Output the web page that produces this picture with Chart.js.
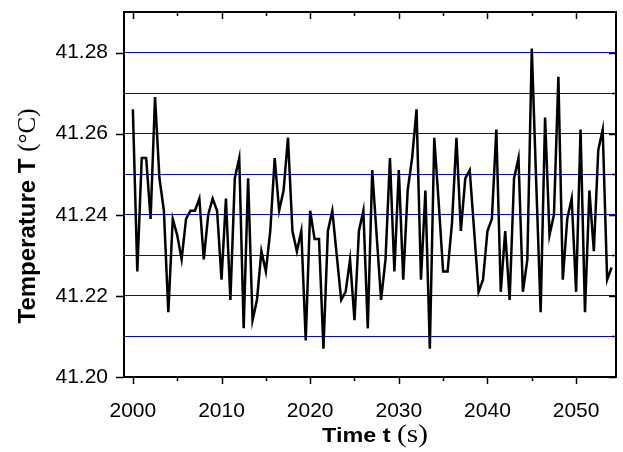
<!DOCTYPE html>
<html>
<head>
<meta charset="utf-8">
<script src="https://cdn.jsdelivr.net/npm/chart.js@4.4.0/dist/chart.umd.min.js"></script>
<style>
  html, body { margin: 0; padding: 0; background: #fff; }
</style>
</head>
<body>
<canvas id="chartTemp" width="623" height="452"></canvas>
<script>
// time stamps (s), one reading every half second
const times = [
  2000, 2000.5, 2001, 2001.5, 2002, 2002.5, 2003, 2003.5, 2004, 2004.5,
  2005, 2005.5, 2006, 2006.5, 2007, 2007.5, 2008, 2008.5, 2009, 2009.5,
  2010, 2010.5, 2011, 2011.5, 2012, 2012.5, 2013, 2013.5, 2014, 2014.5,
  2015, 2015.5, 2016, 2016.5, 2017, 2017.5, 2018, 2018.5, 2019, 2019.5,
  2020, 2020.5, 2021, 2021.5, 2022, 2022.5, 2023, 2023.5, 2024, 2024.5,
  2025, 2025.5, 2026, 2026.5, 2027, 2027.5, 2028, 2028.5, 2029, 2029.5,
  2030, 2030.5, 2031, 2031.5, 2032, 2032.5, 2033, 2033.5, 2034, 2034.5,
  2035, 2035.5, 2036, 2036.5, 2037, 2037.5, 2038, 2038.5, 2039, 2039.5,
  2040, 2040.5, 2041, 2041.5, 2042, 2042.5, 2043, 2043.5, 2044, 2044.5,
  2045, 2045.5, 2046, 2046.5, 2047, 2047.5, 2048, 2048.5, 2049, 2049.5,
  2050, 2050.5, 2051, 2051.5, 2052, 2052.5, 2053, 2053.5, 2054
];

// temperature readings (°C)
const temps = [
  41.266, 41.226, 41.254, 41.254, 41.239, 41.269, 41.249, 41.241, 41.216, 41.239,
  41.235, 41.229, 41.239, 41.241, 41.241, 41.244, 41.229, 41.240, 41.244, 41.241,
  41.224, 41.244, 41.219, 41.249, 41.254, 41.212, 41.249, 41.214, 41.219, 41.231,
  41.226, 41.236, 41.254, 41.241, 41.246, 41.259, 41.236, 41.231, 41.236, 41.209,
  41.241, 41.234, 41.234, 41.207, 41.236, 41.241, 41.230, 41.219, 41.221, 41.229,
  41.214, 41.236, 41.241, 41.212, 41.251, 41.235, 41.219, 41.229, 41.254, 41.226,
  41.251, 41.224, 41.246, 41.254, 41.266, 41.224, 41.246, 41.207, 41.259, 41.243,
  41.226, 41.226, 41.238, 41.259, 41.236, 41.249, 41.251, 41.236, 41.221, 41.224,
  41.236, 41.239, 41.261, 41.221, 41.236, 41.219, 41.249, 41.254, 41.221, 41.229,
  41.281, 41.248, 41.216, 41.264, 41.235, 41.240, 41.274, 41.224, 41.239, 41.244,
  41.221, 41.261, 41.216, 41.246, 41.231, 41.256, 41.261, 41.224, 41.227
];

const xTickValues = [2000, 2010, 2020, 2030, 2040, 2050];
const xMinorValues = [2005, 2015, 2025, 2035, 2045];
const yTickValues = [41.20, 41.22, 41.24, 41.26, 41.28];
const yMinorValues = [41.21, 41.23, 41.25, 41.27];

function isMajorY(v) {
  return yTickValues.some(t => Math.abs(t - v) < 1e-6);
}

// writes a sans part and a serif part side by side, centred on 0
function drawMixedTitle(ctx, sansText, serifText, sansFont, serifFont) {
  ctx.font = sansFont;
  const w1 = ctx.measureText(sansText).width;
  ctx.font = serifFont;
  const w2 = ctx.measureText(serifText).width;
  const sx = -(w1 + w2) / 2;
  ctx.font = sansFont;
  ctx.fillText(sansText, sx, 0);
  ctx.font = serifFont;
  ctx.fillText(serifText, sx + w1, 0);
}

// frame, tick marks and the mixed-font axis titles
const frameAndTitles = {
  id: 'frameAndTitles',
  afterDraw(chart) {
    const { ctx, chartArea: a, scales: { x, y } } = chart;
    ctx.save();
    ctx.strokeStyle = '#000';
    ctx.lineWidth = 2;
    ctx.strokeRect(a.left, a.top, a.right - a.left, a.bottom - a.top);

    ctx.lineWidth = 1.5;
    ctx.beginPath();
    xTickValues.concat(xMinorValues).forEach(v => {
      const px = Math.round(x.getPixelForValue(v)) + 0.5;
      const len = xTickValues.includes(v) ? 7 : 4;
      ctx.moveTo(px, a.bottom); ctx.lineTo(px, a.bottom + len);
      ctx.moveTo(px, a.top); ctx.lineTo(px, a.top + len);
    });
    yTickValues.concat(yMinorValues).forEach(v => {
      const py = Math.round(y.getPixelForValue(v)) + 0.5;
      const major = isMajorY(v);
      if (major) { ctx.moveTo(a.left - 8, py); ctx.lineTo(a.left, py); }
      ctx.moveTo(a.right, py); ctx.lineTo(a.right - (major ? 7 : 4), py);
    });
    ctx.stroke();

    ctx.fillStyle = '#000';
    ctx.textBaseline = 'alphabetic';
    ctx.textAlign = 'left';

    // x title: "Time t (s)"
    ctx.save();
    ctx.translate(375, 442);
    ctx.scale(1.17, 1);
    drawMixedTitle(ctx, 'Time t ', '(s)',
      'bold 20px "Liberation Sans", Arial, sans-serif',
      '25px "Liberation Serif", "Times New Roman", serif');
    ctx.restore();

    // y title: "Temperature T (°C)"
    ctx.save();
    ctx.translate(35, 216);
    ctx.rotate(-Math.PI / 2);
    drawMixedTitle(ctx, 'Temperature T ', '(\u00B0C)',
      'bold 24px "Liberation Sans", Arial, sans-serif',
      '25px "Liberation Serif", "Times New Roman", serif');
    ctx.restore();
    ctx.restore();
  }
};

new Chart(document.getElementById('chartTemp').getContext('2d'), {
  type: 'line',
  data: {
    datasets: [{
      data: times.map((t, i) => ({ x: t, y: temps[i] })),
      borderColor: '#000',
      borderWidth: 2.5,
      pointRadius: 0,
      tension: 0,
      fill: false
    }]
  },
  options: {
    responsive: false,
    animation: false,
    layout: { padding: { left: 0, top: 12, right: 7, bottom: 0 } },
    plugins: {
      legend: { display: false },
      tooltip: { enabled: false }
    },
    scales: {
      x: {
        type: 'linear',
        min: 1999,
        max: 2054.5,
        afterBuildTicks: s => { s.ticks = xTickValues.map(v => ({ value: v })); },
        afterFit: s => { s.height = 75; s.paddingLeft = 0; s.paddingRight = 0; },
        grid: { display: false },
        border: { display: false },
        ticks: {
          color: '#000',
          padding: 14,
          maxRotation: 0,
          font: { family: '"Liberation Sans", Arial, sans-serif', size: 21 },
          callback: v => String(v)
        }
      },
      y: {
        min: 41.20,
        max: 41.29,
        afterBuildTicks: s => {
          s.ticks = yTickValues.concat(yMinorValues).sort((p, q) => p - q).map(v => ({ value: v }));
        },
        afterFit: s => { s.width = 124; s.paddingTop = 0; s.paddingBottom = 0; },
        grid: {
          drawTicks: false,
          color: '#0000ff',
          lineWidth: 1
        },
        border: { display: false },
        ticks: {
          color: '#000',
          padding: 16,
          autoSkip: false,
          font: { family: '"Liberation Sans", Arial, sans-serif', size: 21 },
          callback: v => isMajorY(v) ? v.toFixed(2) : ''
        }
      }
    }
  },
  plugins: [frameAndTitles]
});
</script>
</body>
</html>
